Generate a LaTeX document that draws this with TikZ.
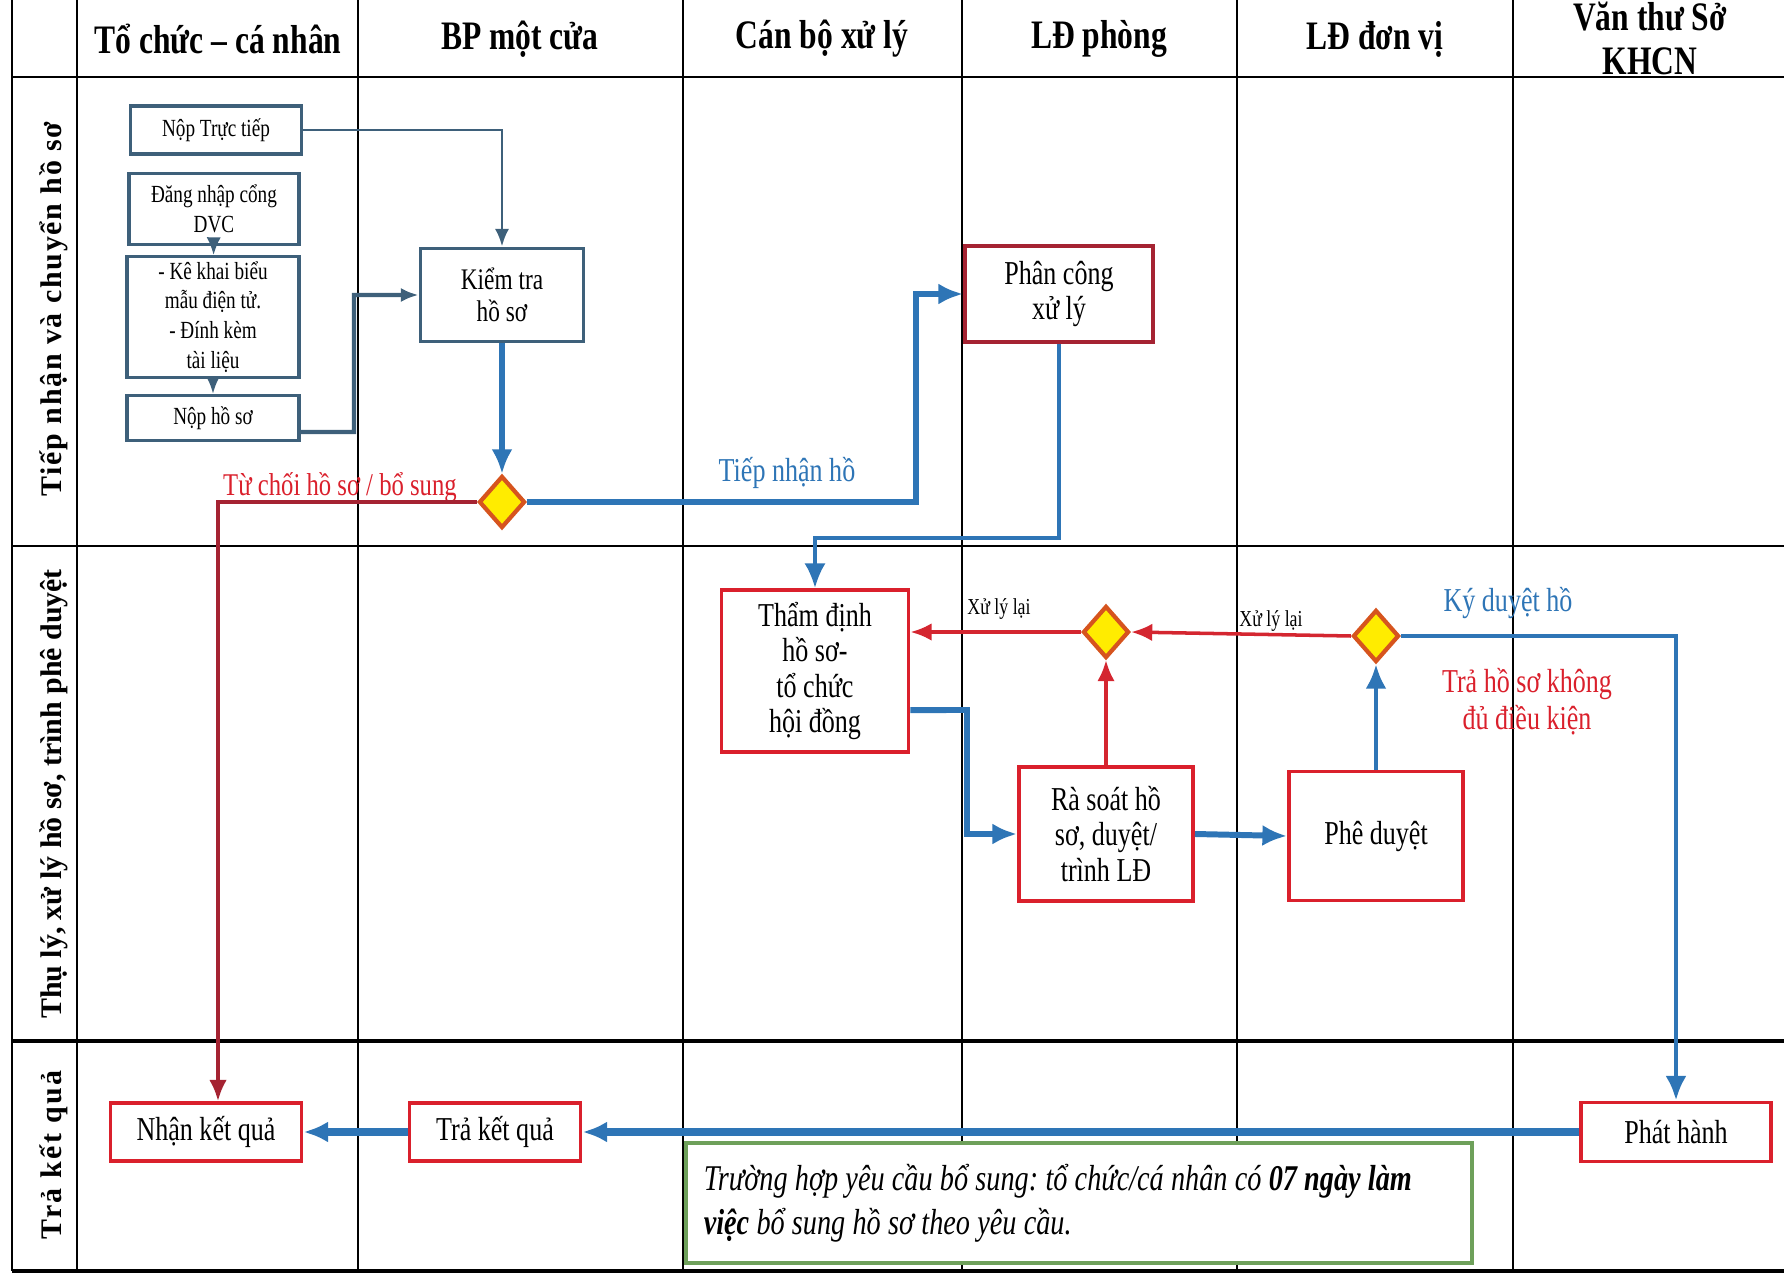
\documentclass[tikz,border=0pt]{standalone}
\usepackage{fontspec}
\setmainfont{Liberation Serif}[FakeStretch=0.78]
\newfontfamily\lanefont{Liberation Serif}
\usepackage{tikz}
\usetikzlibrary{shapes.geometric}
\usetikzlibrary{arrows.meta}

\definecolor{flowblue}{RGB}{46,117,182}
\definecolor{boxred}{RGB}{218,32,44}
\definecolor{darkred}{RGB}{165,35,50}
\definecolor{linered}{RGB}{212,38,48}
\definecolor{slate}{RGB}{62,96,122}
\definecolor{dyellow}{RGB}{255,236,0}
\definecolor{dorange}{RGB}{214,84,30}
\definecolor{notegreen}{RGB}{110,160,90}

\begin{document}
\begin{tikzpicture}[x=0.01cm,y=-0.01cm,
  redbox/.style={draw=boxred, line width=1.1pt, fill=white, align=center, inner sep=2pt, font=\fontsize{9.5}{10}\selectfont},
  greybox/.style={draw=slate, line width=0.9pt, fill=white, align=center, inner sep=1pt, font=\fontsize{7}{8.5}\selectfont},
  dia/.style={diamond, draw=dorange, fill=dyellow, line width=1.2pt, minimum width=0.46cm, minimum height=0.52cm, inner sep=0pt},
  blueflow/.style={draw=flowblue, line width=1.7pt, -{Latex[length=7pt,width=6pt]}},
  redflow/.style={draw=linered, line width=1pt, -{Latex[length=6pt,width=5pt]}},
  feed/.style={draw=slate, line width=0.8pt, -{Latex[length=5pt,width=4pt]}},
  head/.style={align=center, font=\fontsize{11.5}{12.5}\selectfont\bfseries},
  lane/.style={rotate=90, font=\lanefont\fontsize{8.5}{10}\selectfont\bfseries},
  lbl/.style={font=\fontsize{9.5}{10.5}\selectfont}]
\useasboundingbox (0,0) rectangle (1784,1276);

% table
\foreach \x in {12,77,358,683,962,1237,1513}
  \draw[line width=0.7pt] (\x,0) -- (\x,1271);
\draw[line width=0.6pt] (12,77) -- (1784,77);
\draw[line width=0.6pt] (12,546) -- (1784,546);
\draw[line width=1pt] (12,1041) -- (1784,1041);
\draw[line width=1pt] (12,1271) -- (1784,1271);

\node[head] (h1) at (218,39) {Tổ chức – cá nhân};
\node[head] (h2) at (520,39) {BP một cửa};
\node[head] (h3) at (822,39) {Cán bộ xử lý};
\node[head] (h4) at (1099,39) {LĐ phòng};
\node[head] (h5) at (1375,39) {LĐ đơn vị};
\node[head] (h6) at (1650,38) {Văn thư Sở\\KHCN};

\node[lane] (lane1) at (54,309) {\addfontfeature{LetterSpace=6}Tiếp nhận và chuyển hồ sơ};
\node[lane] (lane2) at (54,794) {Thụ lý, xử lý hồ sơ, trình phê duyệt};
\node[lane] (lane3) at (54,1155) {\addfontfeature{LetterSpace=8}Trả kết quả};

% row 1
\node[greybox, minimum width=1.71cm, minimum height=0.48cm] (noptt) at (216,130) {Nộp Trực tiếp};
\node[greybox, minimum width=1.70cm, minimum height=0.71cm] (dangnhap) at (214,209) {Đăng nhập cổng\\DVC};
\node[greybox, minimum width=1.72cm, minimum height=1.21cm] (kekhai) at (213,317) {- Kê khai biểu\\mẫu điện tử.\\- Đính kèm\\tài liệu};
\node[greybox, minimum width=1.72cm, minimum height=0.45cm] (nophs) at (213,418) {Nộp hồ sơ};
\node[greybox, line width=1.1pt, font=\fontsize{8.5}{9}\selectfont, minimum width=1.63cm, minimum height=0.93cm] (kiemtra) at (502,295) {Kiểm tra\\hồ sơ};
\node[dia] (d1) at (502,502) {};
\node[redbox, draw=darkred, minimum width=1.88cm, minimum height=0.96cm] (phancong) at (1059,294) {Phân công\\xử lý};

\draw[feed, line width=0.5pt] (dangnhap) -- (kekhai);
\draw[feed] (kekhai) -- (nophs);
\draw[feed] (noptt.east) -| (kiemtra.north);
\draw[feed, line width=1.2pt] ([yshift=-0.14cm]nophs.east) -- (354,432) |- (kiemtra.west);
\draw[blueflow] (kiemtra.south) -- (d1.north);
\draw[blueflow] (d1.east) -- (916,502) |- (phancong.west);

\node[lbl, font=\fontsize{9}{10}\selectfont, text=boxred] (tuchoi) at (340,487) {Từ chối hồ sơ / bổ sung};
\node[lbl, text=flowblue] (tiepnhan) at (787,473) {Tiếp nhận hồ};

% row 2
\node[redbox, minimum width=1.87cm, minimum height=1.62cm] (thamdinh) at (815,671) {Thẩm định\\hồ sơ-\\tổ chức\\hội đồng};
\node[redbox, minimum width=1.74cm, minimum height=1.34cm] (rasoat) at (1106,834) {Rà soát hồ\\sơ, duyệt/\\trình LĐ};
\node[redbox, minimum width=1.74cm, minimum height=1.29cm] (pheduyet) at (1376,836) {Phê duyệt};
\node[dia] (d2) at (1106,632) {};
\node[dia] (d3) at (1376,636) {};

\draw[blueflow, line width=1pt] (phancong.south) -- ++(0,194) -| (thamdinh.north);
\draw[blueflow] ([yshift=-0.39cm]thamdinh.east) -- (967,710) |- (rasoat.west);
\draw[blueflow] (rasoat.east) -- (pheduyet.west);
\draw[redflow] (rasoat.north) -- (d2.south);
\draw[blueflow, line width=1.4pt] (pheduyet.north) -- (d3.south);
\draw[redflow] (d3.west) -- (d2.east);
\draw[redflow] (d2.west) -- (d2.west -| thamdinh.east);

\node[font=\fontsize{6.5}{7}\selectfont] (xuly1) at (999,609) {Xử lý lại};
\node[font=\fontsize{6.5}{7}\selectfont] (xuly2) at (1271,621) {Xử lý lại};
\node[lbl, text=flowblue] (kyduyet) at (1508,603) {Ký duyệt hồ};
\node[lbl, text=boxred, align=center] (trahs) at (1527,702) {Trả hồ sơ không\\đủ điều kiện};

% row 3
\node[redbox, minimum width=1.91cm, minimum height=0.58cm] (nhan) at (206,1132) {Nhận kết quả};
\node[redbox, minimum width=1.71cm, minimum height=0.58cm] (tra) at (495,1132) {Trả kết quả};
\node[redbox, minimum width=1.90cm, minimum height=0.59cm] (phathanh) at (1676,1132) {Phát hành};

\draw[draw=darkred, line width=1pt, -{Latex[length=6pt,width=5pt]}] (d1.west) -| ([xshift=0.12cm]nhan.north);
\draw[blueflow, line width=1.4pt] (d3.east) -| (phathanh.north);
\draw[blueflow, line width=2pt] (phathanh.west) -- (tra.east);
\draw[blueflow, line width=2pt] (tra.west) -- (nhan.east);

\node[draw=notegreen, line width=1.2pt, fill=white, align=left, minimum width=7.86cm, minimum height=1.2cm, inner xsep=0.18cm, text width=7.5cm, font=\fontsize{10.3}{12.5}\selectfont\itshape] (note) at (1079,1203) {\frenchspacing\spaceskip=0.2em plus 0.1em Trường hợp yêu cầu bổ sung: tổ chức/cá nhân có \textbf{07 ngày làm}\\\textbf{việc} bổ sung hồ sơ theo yêu cầu.};
\end{tikzpicture}
\end{document}
